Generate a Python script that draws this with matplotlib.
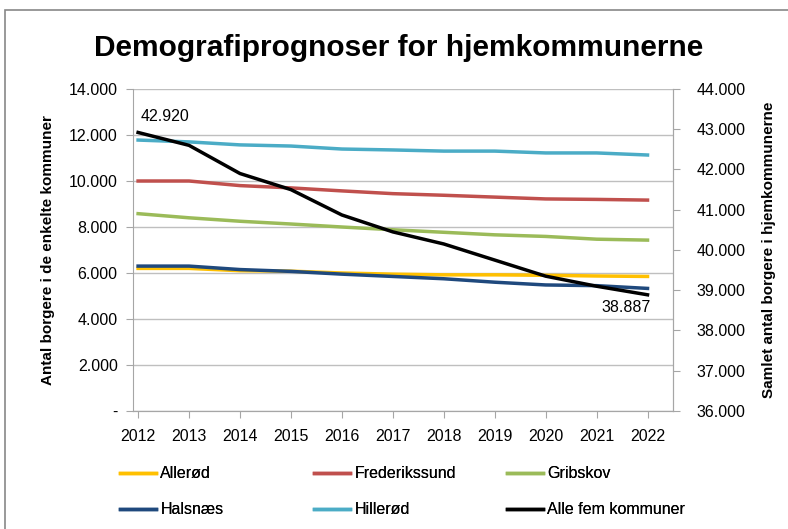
import numpy as np
import matplotlib.pyplot as plt
from matplotlib.patches import Rectangle
from matplotlib.ticker import FuncFormatter

plt.rcParams['font.family'] = ['Liberation Sans', 'DejaVu Sans']

# data
years = [2012, 2013, 2014, 2015, 2016, 2017, 2018, 2019, 2020, 2021, 2022]
alleroed = [6200, 6200, 6100, 6080, 6000, 5950, 5920, 5920, 5900, 5870, 5850]
frederikssund = [10000, 10000, 9800, 9700, 9570, 9450, 9380, 9300, 9220, 9200, 9170]
gribskov = [8580, 8400, 8250, 8130, 8000, 7880, 7770, 7660, 7590, 7470, 7430]
halsnaes = [6300, 6300, 6150, 6070, 5950, 5850, 5750, 5600, 5480, 5450, 5330]
hilleroed = [11780, 11700, 11570, 11520, 11390, 11350, 11300, 11300, 11220, 11220, 11130]
alle_fem = [42920, 42600, 41900, 41500, 40870, 40450, 40150, 39750, 39350, 39100, 38887]

names = ['Allerød', 'Frederikssund', 'Gribskov', 'Halsnæs', 'Hillerød']
series = [alleroed, frederikssund, gribskov, halsnaes, hilleroed]
colors = ['#FFC000', '#C0504D', '#9BBB59', '#1F497D', '#4BACC6']


def dk_fmt(v, pos):
    if v == 0:
        return '-'
    return '{:,.0f}'.format(v).replace(',', '.')


fig = plt.figure(figsize=(7.88, 5.29), dpi=100)
fig.patches.append(Rectangle((5 / 788, -0.1), 1.2, (529 - 10) / 529 + 0.1,
                             transform=fig.transFigure, fill=False,
                             edgecolor='#888888', linewidth=1.2))

ax = fig.add_axes([133 / 788, 118 / 529, 540 / 788, 322 / 529])
ax2 = ax.twinx()

handles = []
for name, vals, c in zip(names, series, colors):
    h, = ax.plot(years, vals, color=c, linewidth=2.5, label=name)
    handles.append(h)
h2, = ax2.plot(years, alle_fem, color='black', linewidth=2.5, label='Alle fem kommuner')
handles.append(h2)

ax.set_xlim(2011.9, 2022.5)
ax.set_ylim(0, 14000)
ax.set_yticks(np.arange(0, 14001, 2000))
ax2.set_ylim(36000, 44000)
ax2.set_yticks(np.arange(36000, 44001, 1000))
ax.yaxis.set_major_formatter(FuncFormatter(dk_fmt))
ax2.yaxis.set_major_formatter(FuncFormatter(dk_fmt))
ax.set_xticks(years)

ax.grid(axis='y', color='#BFBFBF', linewidth=1)
ax.set_axisbelow(True)
for a in (ax, ax2):
    a.spines['top'].set_visible(False)
    for s in ('left', 'right', 'bottom'):
        a.spines[s].set_color('#A6A6A6')
    a.tick_params(colors='#A6A6A6', labelcolor='black', labelsize=11.5, length=5)
ax2.spines['left'].set_visible(False)
ax.tick_params(axis='y', pad=6)
ax.tick_params(axis='x', pad=8)
ax2.tick_params(axis='y', pad=12)

ax.set_ylabel('Antal borgere i de enkelte kommuner', fontsize=11, fontweight='bold', labelpad=10)
ax2.set_ylabel('Samlet antal borgere i hjemkommunerne', fontsize=11, fontweight='bold', labelpad=12)

ax2.annotate(dk_fmt(alle_fem[0], None), (years[0], alle_fem[0]), xytext=(2, 6),
             textcoords='offset points', ha='left', va='bottom', fontsize=11.5)
ax2.annotate(dk_fmt(alle_fem[-1], None), (years[-1], alle_fem[-1]), xytext=(2, -4),
             textcoords='offset points', ha='right', va='top', fontsize=11.5)

fig.text(0.506, 0.91, 'Demografiprognoser for hjemkommunerne', ha='center', va='center',
         fontsize=21.5, fontweight='bold')

# legend: three columns, each its own legend so the column positions match
col_x = [106, 300, 493]
cols = [[0, 3], [1, 4], [2, 5]]
for x0, idx in zip(col_x, cols):
    lg = fig.legend(handles=[handles[i] for i in idx], loc='upper left',
                    bbox_to_anchor=(x0 / 788, 1 - 452 / 529), frameon=False,
                    fontsize=11.5, handlelength=2.2, handletextpad=0.3, labelspacing=1.3)
    fig.add_artist(lg)

fig.savefig('out.png', dpi=100)
